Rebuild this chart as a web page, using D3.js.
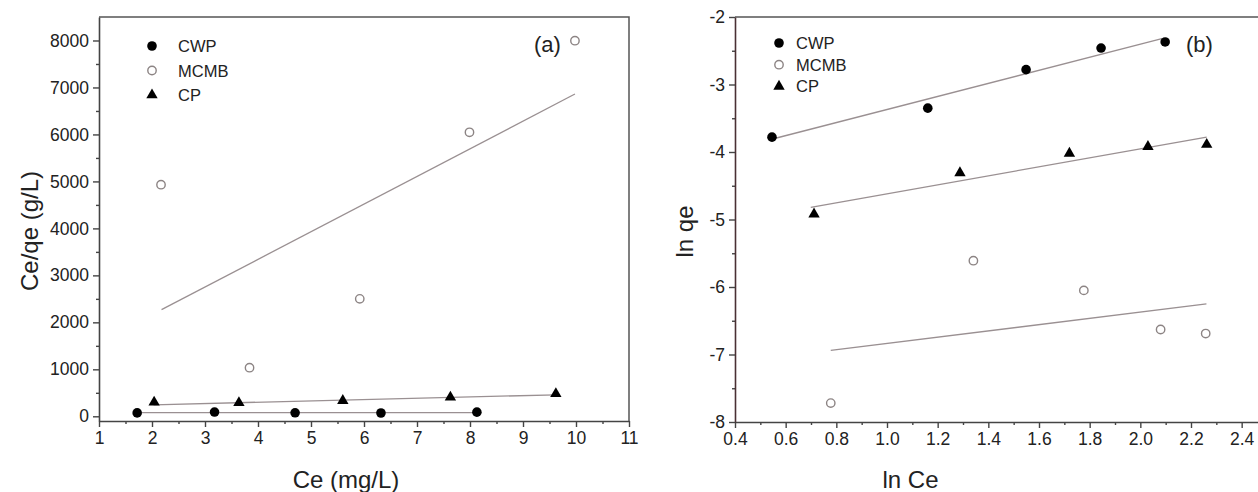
<!DOCTYPE html>
<html lang="en">
<head>
    <meta charset="UTF-8">
    <title>Adsorption isotherms</title>
    <script src="https://cdn.jsdelivr.net/npm/d3@7"></script>
    <style>
        body { margin: 0; background: #fff; }
        svg { font-family: "Liberation Sans", Arial, sans-serif; }
        .tick text { font-size: 17.5px; fill: #222; }
    </style>
</head>
<body>
<div id="chart"></div>
<script>
    // panel (a): Langmuir plot, Ce/qe vs Ce
    const aCwpX = [1.72, 3.18, 4.70, 6.32, 8.13];
    const aCwpY = [72, 90, 75, 70, 88];
    const aMcmbX = [2.17, 3.84, 5.92, 7.99, 9.98];
    const aMcmbY = [4930, 1035, 2500, 6045, 7995];
    const aCpX = [2.04, 3.64, 5.60, 7.63, 9.62];
    const aCpY = [298, 288, 334, 405, 480];
    // fitted lines: [start, end]
    const aCwpFitX = [1.72, 8.13], aCwpFitY = [78, 78];
    const aMcmbFitX = [2.18, 9.98], aMcmbFitY = [2270, 6860];
    const aCpFitX = [2.03, 9.62], aCpFitY = [245, 458];
    const aXTicks = [1, 2, 3, 4, 5, 6, 7, 8, 9, 10, 11];
    const aYTicks = [0, 1000, 2000, 3000, 4000, 5000, 6000, 7000, 8000];

    // panel (b): Freundlich plot, ln qe vs ln Ce
    const bCwpX = [0.546, 1.161, 1.549, 1.845, 2.098];
    const bCwpY = [-3.78, -3.35, -2.78, -2.46, -2.37];
    const bMcmbX = [0.778, 1.341, 1.777, 2.080, 2.258];
    const bMcmbY = [-7.72, -5.61, -6.05, -6.63, -6.69];
    const bCpX = [0.712, 1.288, 1.720, 2.030, 2.262];
    const bCpY = [-4.92, -4.31, -4.02, -3.92, -3.89];
    const bCwpFitX = [0.556, 2.085], bCwpFitY = [-3.80, -2.32];
    const bMcmbFitX = [0.778, 2.261], bMcmbFitY = [-6.94, -6.25];
    const bCpFitX = [0.699, 2.262], bCpFitY = [-4.82, -3.78];
    const bXTicks = [0.4, 0.6, 0.8, 1.0, 1.2, 1.4, 1.6, 1.8, 2.0, 2.2, 2.4];
    const bYTicks = [-8, -7, -6, -5, -4, -3, -2];

    const width = 1258, height = 492;
    const svg = d3.select("#chart").append("svg")
        .attr("width", width)
        .attr("height", height)
        .attr("viewBox", [0, 0, width, height]);

    const zip = (xs, ys) => xs.map((x, i) => [x, ys[i]]);

    function drawPanel(p) {
        const x = d3.scaleLinear().domain(p.xDomain).range(p.xRange);
        const y = d3.scaleLinear().domain(p.yDomain).range(p.yRange);
        const g = svg.append("g");

        // frame: top and right
        g.append("path")
            .attr("d", `M${p.xRange[0]},${p.yRange[1]}H${p.xRange[1]}V${p.yRange[0]}`)
            .attr("fill", "none").attr("stroke", "#555").attr("stroke-width", 1.5);

        // minor ticks
        g.append("g").attr("transform", `translate(0,${p.yRange[0]})`)
            .call(d3.axisBottom(x).tickValues(p.xMinor).tickSize(3).tickFormat(""))
            .call(s => s.select(".domain").remove());
        g.append("g").attr("transform", `translate(${p.xRange[0]},0)`)
            .call(d3.axisLeft(y).tickValues(p.yMinor).tickSize(3).tickFormat(""))
            .call(s => s.select(".domain").remove());

        const xAxis = g.append("g").attr("transform", `translate(0,${p.yRange[0]})`)
            .call(d3.axisBottom(x).tickValues(p.xTicks).tickSize(6).tickPadding(5).tickSizeOuter(0).tickFormat(p.xFormat));
        const yAxis = g.append("g").attr("transform", `translate(${p.xRange[0]},0)`)
            .call(d3.axisLeft(y).tickValues(p.yTicks).tickSize(6).tickPadding(4).tickSizeOuter(0).tickFormat(p.yFormat));
        xAxis.select(".domain").attr("stroke", "#444").attr("stroke-width", 1.6);
        yAxis.select(".domain").attr("stroke", p.yAxisColor).attr("stroke-width", 1.6);
        g.selectAll(".tick line").attr("stroke", "#444").attr("stroke-width", 1.4);

        // fit lines
        const line = d3.line().x(d => x(d[0])).y(d => y(d[1]));
        p.fits.forEach(f => {
            g.append("path").datum(zip(f[0], f[1]))
                .attr("d", line).attr("fill", "none")
                .attr("stroke", "#9a9092").attr("stroke-width", 1.3);
        });

        // markers
        const tri = d3.symbol().type(d3.symbolTriangle).size(56);
        g.append("g").selectAll("circle").data(zip(p.cwp[0], p.cwp[1])).join("circle")
            .attr("cx", d => x(d[0])).attr("cy", d => y(d[1])).attr("r", 4.8).attr("fill", "#000");
        g.append("g").selectAll("circle").data(zip(p.mcmb[0], p.mcmb[1])).join("circle")
            .attr("cx", d => x(d[0])).attr("cy", d => y(d[1])).attr("r", 4.2)
            .attr("fill", "none").attr("stroke", "#8c8484").attr("stroke-width", 1.4);
        g.append("g").selectAll("path").data(zip(p.cp[0], p.cp[1])).join("path")
            .attr("transform", d => `translate(${x(d[0])},${y(d[1])})`)
            .attr("d", tri).attr("fill", "#000");

        // legend
        const names = ["CWP", "MCMB", "CP"];
        names.forEach((n, i) => {
            const ly = p.legend.y + i * p.legend.dy;
            const lx = p.legend.x;
            if (i === 0) g.append("circle").attr("cx", lx).attr("cy", ly).attr("r", 4.8).attr("fill", "#000");
            if (i === 1) g.append("circle").attr("cx", lx).attr("cy", ly).attr("r", 4.2)
                .attr("fill", "none").attr("stroke", "#8c8484").attr("stroke-width", 1.4);
            if (i === 2) g.append("path").attr("transform", `translate(${lx},${ly})`).attr("d", tri).attr("fill", "#000");
            g.append("text").attr("x", lx + p.legend.gap).attr("y", ly + 6)
                .attr("font-size", 16.5).attr("fill", "#222").text(n);
        });

        g.append("text").attr("x", p.tag[0]).attr("y", p.tag[1])
            .attr("font-size", 22).attr("fill", "#222").text(p.tagText);

        // axis titles
        g.append("text").attr("x", (p.xRange[0] + Math.min(p.xRange[1], width)) / 2 + p.xTitleShift).attr("y", 488)
            .attr("text-anchor", "middle").attr("font-size", 24).attr("fill", "#222").text(p.xTitle);
        g.append("text").attr("transform", `translate(${p.yTitleX},${(p.yRange[0] + p.yRange[1]) / 2 + 12}) rotate(-90)`)
            .attr("text-anchor", "middle").attr("font-size", 24).attr("fill", "#222").text(p.yTitle);
    }

    drawPanel({
        xDomain: [1, 11], xRange: [99, 629],
        yDomain: [-100, 8500], yRange: [421, 17],
        xTicks: aXTicks, yTicks: aYTicks,
        xMinor: d3.range(1.5, 11, 1), yMinor: d3.range(500, 8500, 1000),
        xFormat: d => String(d), yFormat: d => String(d),
        yAxisColor: "#444",
        fits: [[aCwpFitX, aCwpFitY], [aMcmbFitX, aMcmbFitY], [aCpFitX, aCpFitY]],
        cwp: [aCwpX, aCwpY], mcmb: [aMcmbX, aMcmbY], cp: [aCpX, aCpY],
        legend: {x: 152, y: 46, dy: 24.5, gap: 26},
        tag: [534, 52], tagText: "(a)",
        xTitle: "Ce (mg/L)", xTitleShift: -18, yTitle: "Ce/qe (g/L)", yTitleX: 38
    });

    drawPanel({
        xDomain: [0.4, 2.5], xRange: [735, 1267],
        yDomain: [-8, -2], yRange: [422, 17],
        xTicks: bXTicks, yTicks: bYTicks,
        xMinor: d3.range(0.5, 2.5, 0.2), yMinor: d3.range(-7.5, -2, 1),
        xFormat: d3.format(".1f"), yFormat: d => String(d),
        yAxisColor: "#4a3034",
        fits: [[bCwpFitX, bCwpFitY], [bMcmbFitX, bMcmbFitY], [bCpFitX, bCpFitY]],
        cwp: [bCwpX, bCwpY], mcmb: [bMcmbX, bMcmbY], cp: [bCpX, bCpY],
        legend: {x: 779, y: 43, dy: 21.7, gap: 17},
        tag: [1186, 52], tagText: "(b)",
        xTitle: "ln Ce", xTitleShift: -86, yTitle: "ln qe", yTitleX: 693
    });
</script>
</body>
</html>
